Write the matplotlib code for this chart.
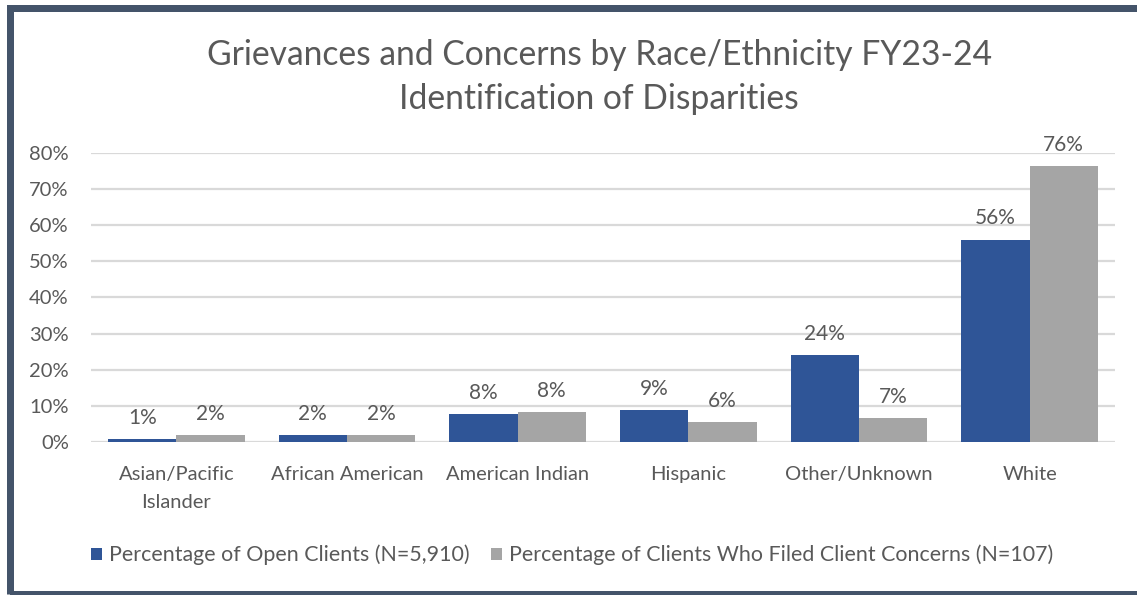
import matplotlib.pyplot as plt
import matplotlib.patches as patches
import numpy as np

# datos
categorias = ["Asian/Pacific\nIslander", "African American", "American Indian",
              "Hispanic", "Other/Unknown", "White"]
clientes_abiertos = [0.8, 1.9, 7.9, 9.0, 24.0, 56.0]
clientes_quejas = [1.9, 1.9, 8.3, 5.6, 6.6, 76.3]
etiquetas_abiertos = ["1%", "2%", "8%", "9%", "24%", "56%"]
etiquetas_quejas = ["2%", "2%", "8%", "6%", "7%", "76%"]
serie_1 = "Percentage of Open Clients (N=5,910)"
serie_2 = "Percentage of Clients Who Filed Client Concerns (N=107)"

azul = "#2F5597"
gris = "#A5A5A5"
texto = "#595959"
plt.rcParams['font.family'] = ['Lato', 'DejaVu Sans']

W, H = 1137, 595
fig = plt.figure(figsize=(W / 100, H / 100), dpi=100)
ax = fig.add_axes([91 / W, 1 - 442.3 / H, (1115 - 91) / W, (442.3 - 152.7) / H])

x = np.arange(len(categorias))
ancho = 0.4
b1 = ax.bar(x - ancho / 2, clientes_abiertos, ancho, color=azul, label=serie_1, zorder=3)
b2 = ax.bar(x + ancho / 2, clientes_quejas, ancho, color=gris, label=serie_2, zorder=3)

for barras, etiquetas in ((b1, etiquetas_abiertos), (b2, etiquetas_quejas)):
    for b, et in zip(barras, etiquetas):
        ax.annotate(et, (b.get_x() + b.get_width() / 2, b.get_height()),
                    xytext=(0, 8), textcoords="offset points", ha="center", va="bottom",
                    fontsize=15, color=texto)

ax.set_xlim(-0.5, len(categorias) - 0.5)
ax.set_ylim(0, 80)
ax.set_yticks(range(0, 81, 10))
ax.set_yticklabels([f"{v}%" for v in range(0, 81, 10)])
ax.set_xticks(x)
ax.set_xticklabels(categorias, linespacing=1.8)
ax.tick_params(axis="both", length=0, labelsize=14.5, labelcolor=texto)
ax.tick_params(axis="x", pad=17)
ax.tick_params(axis="y", pad=16)
ax.grid(axis="y", color="#D9D9D9", linewidth=1.6, zorder=0)
for s in ax.spines.values():
    s.set_visible(False)

fig.text(0.527, 1 - 55 / H, "Grievances and Concerns by Race/Ethnicity FY23-24",
         ha="center", va="center", fontsize=24.2, color=texto)
fig.text(0.527, 1 - 99 / H, "Identification of Disparities",
         ha="center", va="center", fontsize=24.2, color=texto)

fig.legend(handles=[b1, b2], loc="center left", bbox_to_anchor=(91 / W, 1 - 555 / H),
           ncol=2, frameon=False, fontsize=15.4, labelcolor=texto,
           borderpad=0, borderaxespad=0,
           handlelength=0.5, handleheight=0.5, handletextpad=0.35, columnspacing=1.0)

# marco exterior (el lado derecho queda fuera de la imagen)
borde = patches.Rectangle((9.5 / W, 1 / H), 1.05 - 9.5 / W, (595 - 7.5 - 1) / H,
                          transform=fig.transFigure, fill=False, edgecolor="#44546A",
                          linewidth=5.04)
fig.patches.append(borde)

fig.savefig("out.png", dpi=100)
